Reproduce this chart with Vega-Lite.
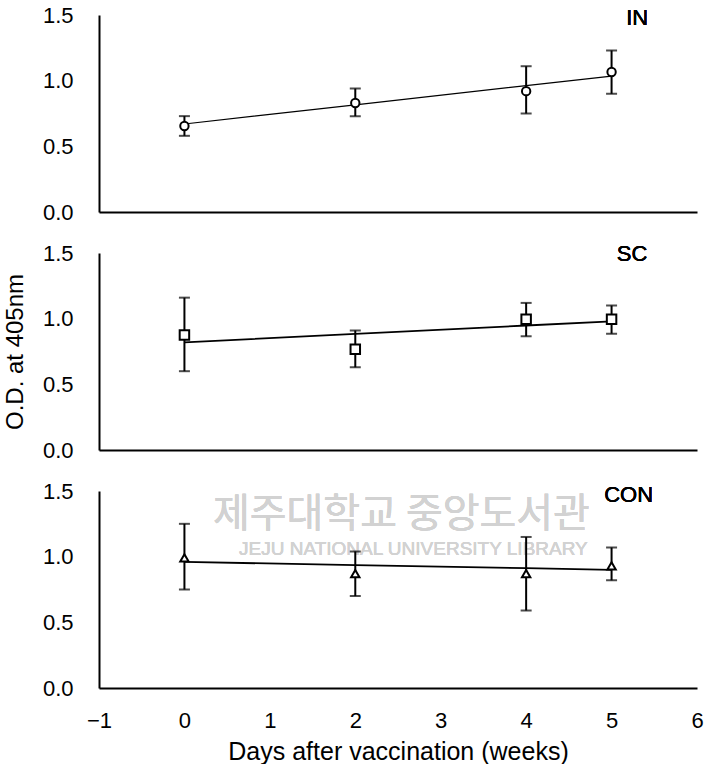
{
  "$schema": "https://vega.github.io/schema/vega-lite/v6.json",
  "background": "white",
  "padding": {"left": 3, "top": 4, "right": 0, "bottom": 0},
  "spacing": 41,
  "bounds": "flush",
  "config": {
    "view": {"stroke": null},
    "font": "Liberation Sans",
    "axis": {
      "domainColor": "black", "domainWidth": 2,
      "grid": false, "labelFlush": false,
      "labelFontSize": 22, "labelColor": "black", "labelFont": "Liberation Sans",
      "titleFont": "Liberation Sans", "titleFontSize": 24, "titleFontWeight": "normal", "titleColor": "black"
    }
  },
  "datasets": {
    "od": [
      {"group": "IN", "week": 0, "od": 0.655, "lo": 0.58, "hi": 0.73, "fit": 0.67},
      {"group": "IN", "week": 2, "od": 0.83, "lo": 0.73, "hi": 0.94, "fit": 0.816},
      {"group": "IN", "week": 4, "od": 0.92, "lo": 0.75, "hi": 1.11, "fit": 0.962},
      {"group": "IN", "week": 5, "od": 1.066, "lo": 0.9, "hi": 1.23, "fit": 1.035},
      {"group": "SC", "week": 0, "od": 0.876, "lo": 0.6, "hi": 1.16, "fit": 0.82},
      {"group": "SC", "week": 2, "od": 0.767, "lo": 0.63, "hi": 0.91, "fit": 0.884},
      {"group": "SC", "week": 4, "od": 0.995, "lo": 0.866, "hi": 1.12, "fit": 0.948},
      {"group": "SC", "week": 5, "od": 0.995, "lo": 0.886, "hi": 1.1, "fit": 0.98},
      {"group": "CON", "week": 0, "od": 0.99, "lo": 0.75, "hi": 1.25, "fit": 0.96},
      {"group": "CON", "week": 2, "od": 0.87, "lo": 0.7, "hi": 1.04, "fit": 0.936},
      {"group": "CON", "week": 4, "od": 0.87, "lo": 0.59, "hi": 1.15, "fit": 0.912},
      {"group": "CON", "week": 5, "od": 0.93, "lo": 0.82, "hi": 1.07, "fit": 0.9}
    ]
  },
  "vconcat": [
    {
      "width": 598, "height": 197,
      "data": {"name": "od"},
      "transform": [{"filter": "datum.group === 'IN'"}],
      "resolve": {"axis": {"x": "independent", "y": "independent"}},
      "layer": [
        {"mark": {"type": "line", "color": "black", "strokeWidth": 1.2},
         "encoding": {
           "x": {"field": "week", "type": "quantitative", "title": null,
                 "scale": {"domain": [-1, 6], "nice": false, "zero": false},
                 "axis": {"orient": "bottom", "values": [-1, 0, 1, 2, 3, 4, 5, 6], "labels": false, "ticks": false}},
           "y": {"field": "fit", "type": "quantitative", "title": null,
                 "scale": {"domain": [0, 1.5], "nice": false},
                 "axis": {"orient": "left", "values": [0, 0.5, 1, 1.5], "format": ".1f", "ticks": false, "labelPadding": 26}}}},
        {"mark": {"type": "errorbar", "color": "black", "thickness": 2, "ticks": {"size": 11}},
         "encoding": {
           "x": {"field": "week", "type": "quantitative", "axis": null},
           "y": {"field": "lo", "type": "quantitative", "axis": null}, "y2": {"field": "hi"}}},
        {"mark": {"type": "point", "shape": "circle", "filled": true, "fill": "white", "stroke": "black", "strokeWidth": 2, "size": 70, "opacity": 1},
         "encoding": {
           "x": {"field": "week", "type": "quantitative", "axis": null},
           "y": {"field": "od", "type": "quantitative", "axis": null}}},
        {"mark": {"type": "text", "fontSize": 22, "color": "black"},
         "encoding": {"x": {"datum": 5.3, "axis": null}, "y": {"datum": 1.48, "axis": null}, "text": {"value": "IN"}}}
      ]
    },
    {
      "width": 598, "height": 197,
      "data": {"name": "od"},
      "transform": [{"filter": "datum.group === 'SC'"}],
      "resolve": {"axis": {"x": "independent", "y": "independent"}},
      "layer": [
        {"mark": {"type": "line", "color": "black", "strokeWidth": 1.8},
         "encoding": {
           "x": {"field": "week", "type": "quantitative", "title": null,
                 "scale": {"domain": [-1, 6], "nice": false, "zero": false},
                 "axis": {"orient": "bottom", "values": [-1, 0, 1, 2, 3, 4, 5, 6], "labels": false, "ticks": false}},
           "y": {"field": "fit", "type": "quantitative", "title": "O.D. at 405nm",
                 "scale": {"domain": [0, 1.5], "nice": false},
                 "axis": {"orient": "left", "values": [0, 0.5, 1, 1.5], "format": ".1f", "ticks": false, "labelPadding": 26, "titlePadding": 15}}}},
        {"mark": {"type": "errorbar", "color": "black", "thickness": 2, "ticks": {"size": 11}},
         "encoding": {
           "x": {"field": "week", "type": "quantitative", "axis": null},
           "y": {"field": "lo", "type": "quantitative", "axis": null}, "y2": {"field": "hi"}}},
        {"mark": {"type": "point", "shape": "square", "filled": true, "fill": "white", "stroke": "black", "strokeWidth": 2, "size": 90, "opacity": 1},
         "encoding": {
           "x": {"field": "week", "type": "quantitative", "axis": null},
           "y": {"field": "od", "type": "quantitative", "axis": null}}},
        {"mark": {"type": "text", "fontSize": 22, "color": "black"},
         "encoding": {"x": {"datum": 5.24, "axis": null}, "y": {"datum": 1.49, "axis": null}, "text": {"value": "SC"}}}
      ]
    },
    {
      "width": 598, "height": 197,
      "data": {"name": "od"},
      "transform": [{"filter": "datum.group === 'CON'"}],
      "resolve": {"axis": {"x": "independent", "y": "independent"}},
      "layer": [
        {"mark": {"type": "text", "fontSize": 40, "color": "#d2d2d2", "font": "Noto Sans CJK KR"},
         "encoding": {"x": {"datum": 2.54, "axis": null}, "y": {"datum": 1.32, "axis": null}, "text": {"value": "제주대학교 중앙도서관"}}},
        {"mark": {"type": "text", "fontSize": 19, "color": "#d2d2d2"},
         "encoding": {"x": {"datum": 2.68, "axis": null}, "y": {"datum": 1.06, "axis": null}, "text": {"value": "JEJU NATIONAL UNIVERSITY  LIBRARY"}}},
        {"mark": {"type": "line", "color": "black", "strokeWidth": 1.8},
         "encoding": {
           "x": {"field": "week", "type": "quantitative", "title": "Days after vaccination (weeks)",
                 "scale": {"domain": [-1, 6], "nice": false, "zero": false},
                 "axis": {"orient": "bottom", "values": [-1, 0, 1, 2, 3, 4, 5, 6], "format": "d", "ticks": false, "labelPadding": 22, "titlePadding": 8, "titleFontSize": 25}},
           "y": {"field": "fit", "type": "quantitative", "title": null,
                 "scale": {"domain": [0, 1.5], "nice": false},
                 "axis": {"orient": "left", "values": [0, 0.5, 1, 1.5], "format": ".1f", "ticks": false, "labelPadding": 26}}}},
        {"mark": {"type": "errorbar", "color": "black", "thickness": 2, "ticks": {"size": 11}},
         "encoding": {
           "x": {"field": "week", "type": "quantitative", "axis": null},
           "y": {"field": "lo", "type": "quantitative", "axis": null}, "y2": {"field": "hi"}}},
        {"mark": {"type": "point", "shape": "triangle-up", "filled": true, "fill": "white", "stroke": "black", "strokeWidth": 2, "size": 70, "opacity": 1},
         "encoding": {
           "x": {"field": "week", "type": "quantitative", "axis": null},
           "y": {"field": "od", "type": "quantitative", "axis": null}}},
        {"mark": {"type": "text", "fontSize": 22, "color": "black"},
         "encoding": {"x": {"datum": 5.2, "axis": null}, "y": {"datum": 1.47, "axis": null}, "text": {"value": "CON"}}}
      ]
    }
  ]
}
